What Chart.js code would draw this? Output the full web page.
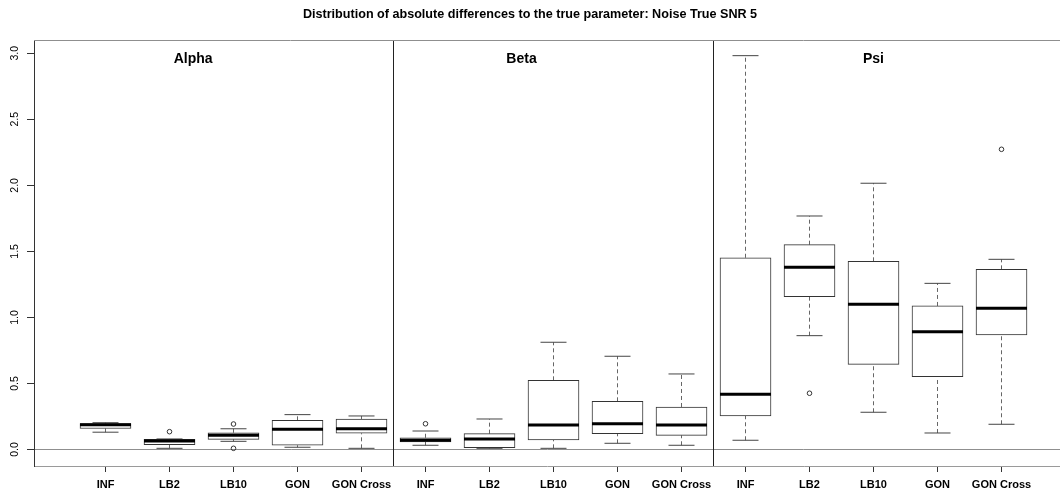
<!DOCTYPE html>
<html><head><meta charset="utf-8">
<script src="https://cdn.jsdelivr.net/npm/chart.js@4.4.1/dist/chart.umd.min.js"></script>
<style>html,body{margin:0;padding:0;background:#fff;overflow:hidden}canvas{display:block}</style>
</head><body>
<canvas id="c" width="1060" height="496"></canvas>
<script>
// ---------------- data ----------------
const titleText = 'Distribution of absolute differences to the true parameter: Noise True SNR 5';
const panelNames = ['Alpha', 'Beta', 'Psi'];
const panelLabelX = [2.37, 7.5, 13.0];
const panelLabelY = 2.955;
const panelBreaks = [5.5, 10.5];
const categories = ['INF','LB2','LB10','GON','GON Cross',
                    'INF','LB2','LB10','GON','GON Cross',
                    'INF','LB2','LB10','GON','GON Cross'];
const positions = [1,2,3,4,5,6,7,8,9,10,11,12,13,14,15];
const lowerWhisker = [0.131,0.009,0.062,0.017,0.009, 0.032,0.009,0.009,0.047,0.032, 0.070,0.862,0.282,0.125,0.191];
const q1           = [0.159,0.036,0.077,0.032,0.123, 0.057,0.014,0.072,0.120,0.107, 0.254,1.157,0.645,0.551,0.867];
const median       = [0.187,0.065,0.107,0.153,0.158, 0.070,0.080,0.186,0.195,0.186, 0.418,1.380,1.099,0.892,1.069];
const q3           = [0.197,0.077,0.127,0.221,0.231, 0.089,0.120,0.524,0.365,0.322, 1.452,1.551,1.425,1.087,1.364];
const upperWhisker = [0.203,0.080,0.157,0.264,0.254, 0.140,0.231,0.812,0.706,0.572, 2.982,1.768,2.016,1.258,1.440];
const outlierPositions = [2, 3, 3, 6, 12, 15];
const outlierValues    = [0.135, 0.193, 0.009, 0.195, 0.426, 2.273];
const yTicks = [0, 0.5, 1.0, 1.5, 2.0, 2.5, 3.0];

// ---------------- geometry / style ----------------
const X_MIN = -0.1172, X_MAX = 15.914;
const Y_MIN = -0.1249, Y_MAX = 3.1006;
const PX_PER_UNIT = 64;
const BOX_PX = 51, CAP_PX = 26;
const boxHalf = (BOX_PX / 2) / PX_PER_UNIT;
const capHalf = (CAP_PX / 2) / PX_PER_UNIT;
const FONT = "'Liberation Sans', Arial, sans-serif";

const whiskerData = [], capData = [], medianData = [], boxData = [], outlierData = [], sepData = [];
positions.forEach((p, i) => {
  whiskerData.push({x:p,y:q3[i]},{x:p,y:upperWhisker[i]},{x:p,y:null},
                   {x:p,y:lowerWhisker[i]},{x:p,y:q1[i]},{x:p,y:null});
  capData.push({x:p-capHalf,y:upperWhisker[i]},{x:p+capHalf,y:upperWhisker[i]},{x:p,y:null},
               {x:p-capHalf,y:lowerWhisker[i]},{x:p+capHalf,y:lowerWhisker[i]},{x:p,y:null});
  medianData.push({x:p-boxHalf,y:median[i]},{x:p+boxHalf,y:median[i]},{x:p,y:null});
  boxData.push({x:p, y:[q1[i], q3[i]]});
});
outlierPositions.forEach((p, i) => outlierData.push({x:p, y:outlierValues[i]}));
panelBreaks.forEach(b => sepData.push({x:b,y:Y_MIN},{x:b,y:Y_MAX},{x:b,y:null}));

const decorPlugin = {
  id: 'decor',
  afterDraw(chart) {
    const {ctx, chartArea, scales} = chart;
    ctx.save();
    ctx.strokeStyle = '#8f8f8f';
    ctx.lineWidth = 1;
    ctx.beginPath();
    ctx.moveTo(chartArea.left, chartArea.top + 0.5);
    ctx.lineTo(chartArea.right, chartArea.top + 0.5);
    ctx.stroke();
    ctx.fillStyle = '#000';
    ctx.font = 'bold 14px ' + FONT;
    ctx.textAlign = 'center';
    ctx.textBaseline = 'middle';
    panelNames.forEach((n, i) => {
      ctx.fillText(n, scales.x.getPixelForValue(panelLabelX[i]), scales.y.getPixelForValue(panelLabelY));
    });
    ctx.restore();
  }
};

const lineBase = {type:'line', pointRadius:0, spanGaps:false, tension:0, fill:false};

new Chart(document.getElementById('c'), {
  type: 'bar',
  data: {
    datasets: [
      Object.assign({}, lineBase, {label:'median', data: medianData, borderColor:'#000', borderWidth:3, borderCapStyle:'butt', order:0}),
      Object.assign({}, lineBase, {label:'outliers', data: outlierData, showLine:false, pointRadius:2.3, pointBorderWidth:1,
        pointBackgroundColor:'rgba(0,0,0,0)', pointBorderColor:'#333', order:1}),
      {type:'bar', label:'box', data: boxData, backgroundColor:'#fff', borderColor:'#333', borderWidth:1,
        borderSkipped:false, barThickness: BOX_PX, order:2},
      Object.assign({}, lineBase, {label:'caps', data: capData, borderColor:'#444', borderWidth:1, order:3}),
      Object.assign({}, lineBase, {label:'whiskers', data: whiskerData, borderColor:'#666', borderWidth:1, borderDash:[4,3], order:4}),
      Object.assign({}, lineBase, {label:'separators', data: sepData, borderColor:'#222', borderWidth:1, order:5})
    ]
  },
  options: {
    responsive: false,
    devicePixelRatio: 1,
    animation: false,
    events: [],
    layout: {padding: 0, autoPadding: false},
    plugins: {
      legend: {display:false},
      tooltip: {enabled:false},
      title: {
        display: true,
        text: titleText,
        color: '#000',
        font: {family: FONT, size: 12.6, weight: 'bold', lineHeight: 1.2},
        padding: {top: 7.4, bottom: 17.48}
      }
    },
    scales: {
      x: {
        type: 'linear',
        min: X_MIN, max: X_MAX,
        offset: false,
        afterBuildTicks: s => { s.ticks = positions.map(v => ({value: v})); },
        afterFit: s => { s.height = 30; s.paddingLeft = 0; s.paddingRight = 0; },
        ticks: {
          autoSkip: false, minRotation: 0, maxRotation: 0, padding: 6,
          color: '#000', font: {family: FONT, size: 11, weight: 'bold'},
          callback: (v) => categories[positions.indexOf(v)] || ''
        },
        grid: {display: true, offset: false, drawOnChartArea: false, drawTicks: true, tickLength: 6, tickColor: '#333', color: '#333'},
        border: {display: true, color: '#9a9a9a', width: 1}
      },
      y: {
        type: 'linear',
        min: Y_MIN, max: Y_MAX,
        afterBuildTicks: s => { s.ticks = yTicks.map(v => ({value: v})); },
        afterFit: s => { s.width = 34; s.paddingTop = 0; s.paddingBottom = 0; },
        ticks: {
          minRotation: 90, maxRotation: 90, crossAlign: 'center', padding: 4.5,
          color: '#000', font: {family: FONT, size: 10.5},
          callback: (v) => Number(v).toFixed(1)
        },
        grid: {
          display: true, drawOnChartArea: true, drawTicks: true, tickLength: 7, tickColor: '#333',
          color: (c) => (c.tick && c.tick.value === 0) ? '#8f8f8f' : 'rgba(0,0,0,0)'
        },
        border: {display: true, color: '#333', width: 1}
      }
    }
  },
  plugins: [decorPlugin]
});
</script>
</body></html>
